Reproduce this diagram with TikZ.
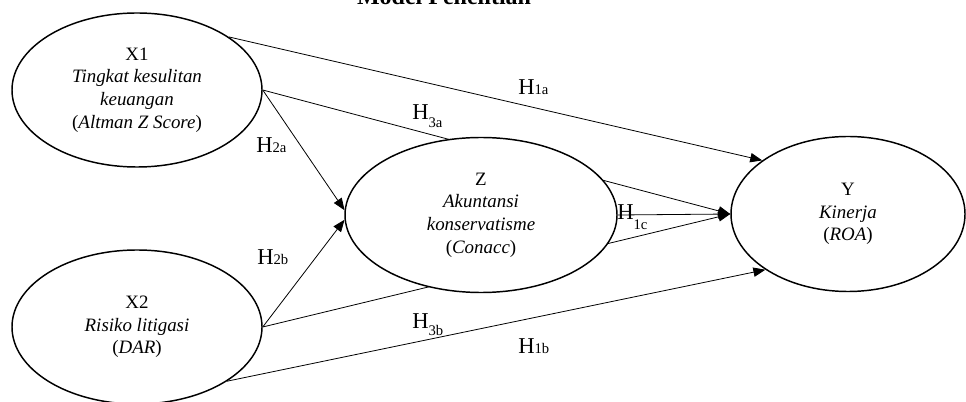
\documentclass[tikz,border=0pt]{standalone}
\usepackage{fontspec}
\setmainfont{Liberation Serif}
\usepackage{tikz}
\usetikzlibrary{shapes.geometric,arrows.meta,backgrounds}
\newcommand{\hsub}[2]{\raisebox{-#2}{\fontsize{11}{11}\selectfont #1}}

\begin{document}
\begin{tikzpicture}[x=0.75pt, y=-0.75pt,
    latent/.style={draw, ellipse, line width=1.1pt, fill=white, inner sep=0pt,
      align=center, font=\fontsize{14.2}{17}\selectfont},
    link/.style={-{Triangle[length=9pt,width=7pt]}, line width=0.6pt},
    hyp/.style={anchor=base west, inner sep=0pt, font=\fontsize{17}{17}\selectfont}]
  \useasboundingbox (0,0) rectangle (966,402);
  \node[font=\bfseries\fontsize{18}{18}\selectfont, anchor=base] (title) at (444,5) {Model Penelitian};

  % variables
  \node[latent, minimum width=187.5pt, minimum height=115.5pt] (x1) at (137,90)
    {X1\\ \textit{Tingkat kesulitan}\\ \textit{keuangan}\\ (\textit{Altman Z Score})};
  \node[latent, minimum width=187.5pt, minimum height=115.5pt] (x2) at (137,327)
    {X2\\ \textit{Risiko litigasi}\\ (\textit{DAR})};
  \node[latent, minimum width=204pt, minimum height=116.25pt] (z) at (481,215)
    {Z\\ \textit{Akuntansi}\\ \textit{konservatisme}\\ (\textit{Conacc})};
  \node[latent, minimum width=175.5pt, minimum height=116.25pt] (y) at (848,214)
    {Y\\ \textit{Kinerja}\\ (\textit{ROA})};

  % mediated paths run behind Z
  \begin{scope}[on background layer]
    \draw[link] (x1.east) -- (y.west);
    \draw[link] (x2.east) -- (y.west);
  \end{scope}
  \draw[link] (x1.30) -- (y.148);
  \draw[link] (x2.-31) -- (y.-146);
  \draw[link] (x1.east) -- (z.178);
  \draw[link] (x2.east) -- (z.182);
  \draw[link] (z.east) -- (y.west);

  % hypothesis labels
  \foreach \x/\y/\nm/\drop in {
    518/95/1a/0pt, 256/153/2a/0pt, 412/120/3a/6pt,
    518/353/1b/0pt, 257/265/2b/0pt, 412/329/3b/5pt,
    617/220/1c/7pt
  }{
    \node[hyp] (h\nm) at (\x,\y) {H\hsub{\nm}{\drop}};
  }
\end{tikzpicture}
\end{document}
